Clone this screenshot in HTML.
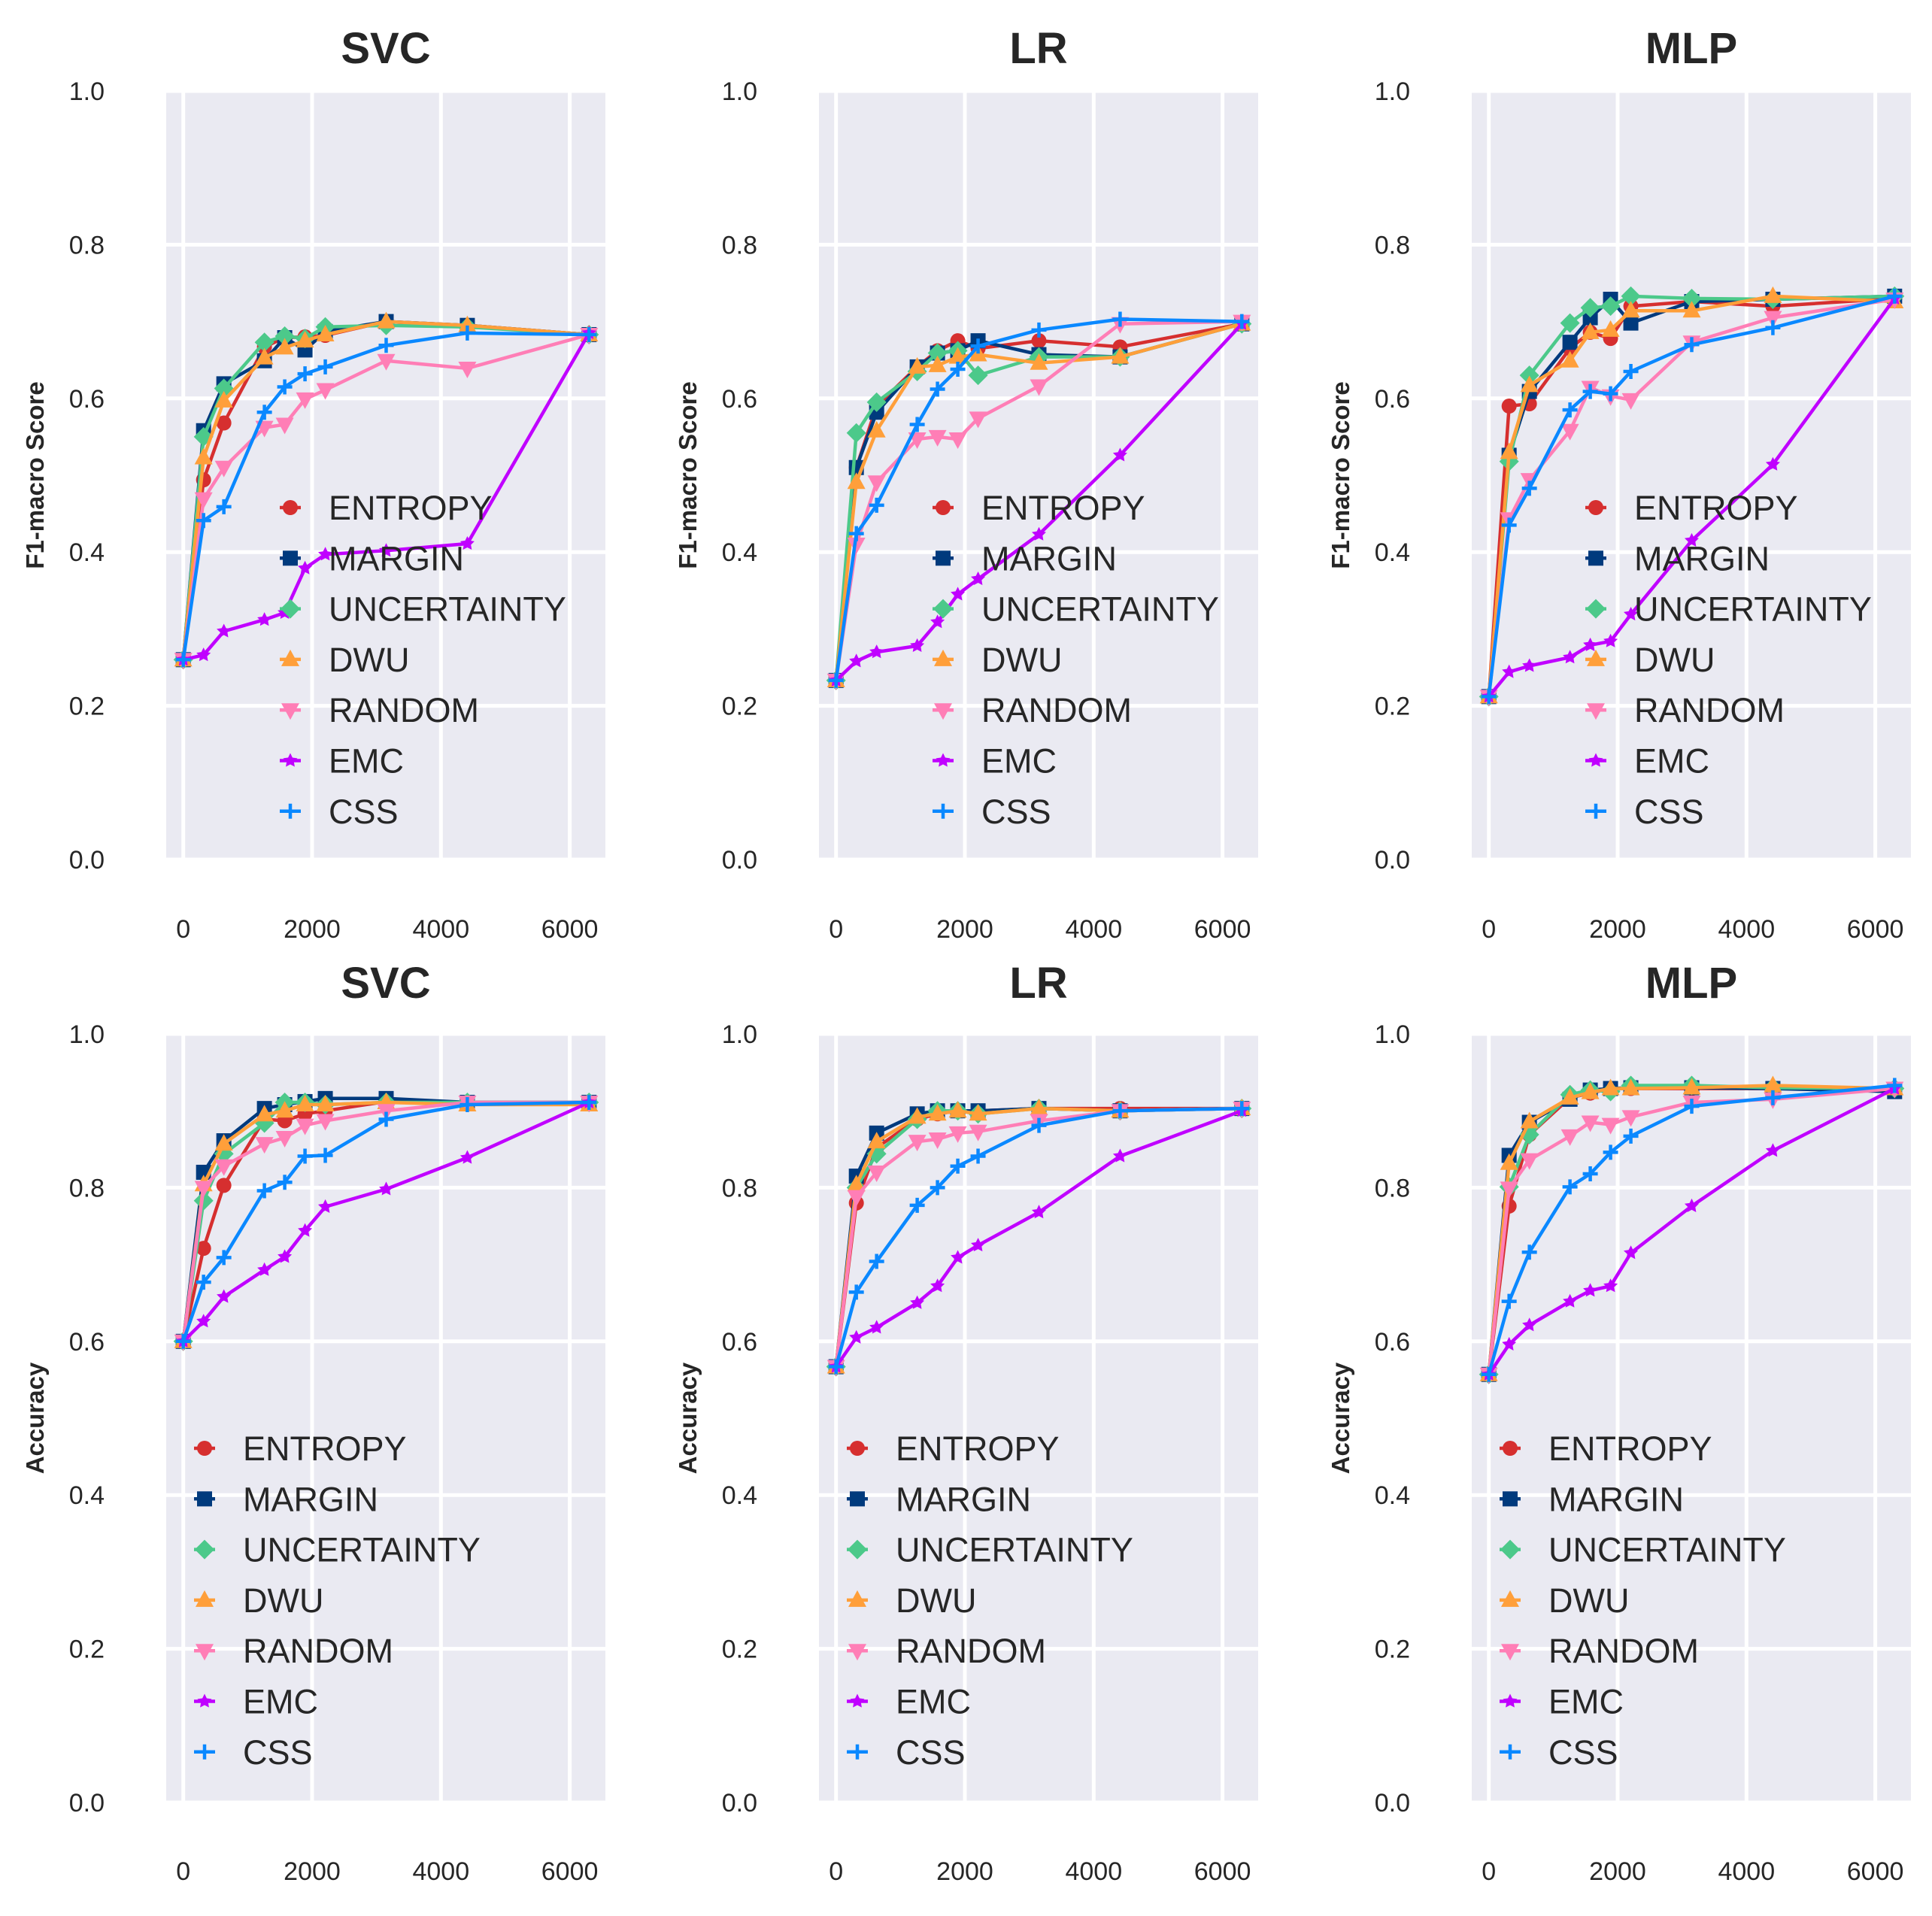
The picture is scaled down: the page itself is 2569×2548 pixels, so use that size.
<!DOCTYPE html>
<html><head><meta charset="utf-8"><style>
html,body{margin:0;padding:0;background:#fff;}
svg{display:block;}
text{font-family:"Liberation Sans",sans-serif;}
</style></head><body>
<svg id="fig" width="2569" height="2548" viewBox="0 0 2569 2548" xmlns="http://www.w3.org/2000/svg"></svg>
<script>
const xs = [0,315,630,1260,1575,1890,2205,3150,4410,6300];
const methods = ["ENTROPY","MARGIN","UNCERTAINTY","DWU","RANDOM","EMC","CSS"];
const colors = ["#d62f2f","#003a7d","#4cc98a","#ff9f3a","#ff7eb6","#c000ff","#0a88ff"];
const markers = ["circle","square","diamond","tri-up","tri-down","star","plus"];
const yTicks = [0.0,0.2,0.4,0.6,0.8,1.0];
const xTicks = [0,2000,4000,6000];
const titles = ["SVC","LR","MLP","SVC","LR","MLP"];
const yLabels = ["F1-macro Score","Accuracy"];

const svcF1 = [
[0.26,0.494,0.568,0.667,0.679,0.68,0.682,0.70,0.695,0.683],
[0.26,0.558,0.619,0.649,0.679,0.663,0.687,0.70,0.695,0.683],
[0.26,0.55,0.613,0.673,0.681,0.678,0.693,0.695,0.693,0.683],
[0.26,0.523,0.597,0.653,0.666,0.675,0.683,0.70,0.695,0.683],
[0.26,0.469,0.51,0.562,0.566,0.599,0.611,0.649,0.639,0.683],
[0.26,0.266,0.297,0.312,0.321,0.379,0.397,0.402,0.411,0.685],
[0.26,0.441,0.459,0.582,0.615,0.632,0.641,0.669,0.685,0.683]];
const lrF1 = [
[0.233,0.51,0.59,0.641,0.662,0.675,0.665,0.675,0.667,0.697],
[0.233,0.51,0.582,0.641,0.659,0.662,0.675,0.657,0.654,0.697],
[0.233,0.555,0.595,0.635,0.659,0.662,0.63,0.654,0.654,0.697],
[0.233,0.491,0.558,0.641,0.643,0.654,0.657,0.646,0.654,0.697],
[0.233,0.41,0.491,0.547,0.55,0.547,0.574,0.616,0.697,0.70],
[0.233,0.258,0.27,0.278,0.309,0.345,0.365,0.423,0.526,0.697],
[0.233,0.424,0.461,0.566,0.612,0.638,0.668,0.689,0.703,0.70]];
const mlpF1 = [
[0.212,0.59,0.593,0.665,0.686,0.678,0.72,0.726,0.72,0.73],
[0.212,0.526,0.609,0.673,0.705,0.729,0.698,0.726,0.729,0.733],
[0.212,0.518,0.63,0.698,0.718,0.72,0.733,0.73,0.729,0.733],
[0.212,0.53,0.617,0.649,0.686,0.689,0.714,0.714,0.733,0.726],
[0.212,0.443,0.494,0.558,0.614,0.603,0.598,0.673,0.705,0.729],
[0.212,0.244,0.252,0.263,0.279,0.284,0.319,0.415,0.514,0.73],
[0.212,0.435,0.483,0.585,0.609,0.606,0.635,0.67,0.692,0.733]];
const svcAcc = [
[0.6,0.721,0.803,0.889,0.887,0.896,0.9,0.912,0.911,0.911],
[0.6,0.82,0.861,0.903,0.908,0.912,0.916,0.916,0.911,0.911],
[0.6,0.783,0.844,0.884,0.911,0.911,0.908,0.911,0.911,0.911],
[0.6,0.804,0.857,0.895,0.9,0.908,0.908,0.911,0.908,0.908],
[0.6,0.8,0.828,0.857,0.865,0.881,0.887,0.9,0.911,0.911],
[0.6,0.626,0.658,0.693,0.71,0.744,0.775,0.798,0.839,0.911],
[0.6,0.677,0.709,0.796,0.807,0.841,0.842,0.889,0.908,0.911]];
const lrAcc = [
[0.567,0.78,0.852,0.889,0.896,0.9,0.9,0.903,0.903,0.903],
[0.567,0.815,0.871,0.896,0.9,0.9,0.9,0.903,0.9,0.903],
[0.567,0.8,0.844,0.889,0.9,0.9,0.896,0.903,0.9,0.903],
[0.567,0.804,0.86,0.892,0.896,0.9,0.896,0.903,0.9,0.903],
[0.567,0.788,0.82,0.86,0.863,0.871,0.873,0.887,0.9,0.903],
[0.567,0.605,0.618,0.65,0.672,0.709,0.725,0.768,0.841,0.9],
[0.567,0.664,0.704,0.777,0.8,0.828,0.841,0.881,0.9,0.903]];
const mlpAcc = [
[0.557,0.776,0.869,0.917,0.923,0.929,0.929,0.929,0.929,0.929],
[0.557,0.842,0.885,0.915,0.927,0.929,0.93,0.93,0.929,0.925],
[0.557,0.801,0.869,0.921,0.927,0.925,0.933,0.933,0.93,0.929],
[0.557,0.832,0.886,0.917,0.924,0.929,0.929,0.93,0.933,0.929],
[0.557,0.799,0.836,0.867,0.885,0.882,0.892,0.911,0.915,0.929],
[0.557,0.596,0.621,0.652,0.666,0.672,0.715,0.776,0.848,0.929],
[0.557,0.652,0.716,0.801,0.818,0.846,0.867,0.906,0.917,0.933]];
const panelData = [svcF1,lrF1,mlpF1,svcAcc,lrAcc,mlpAcc];

const NS="http://www.w3.org/2000/svg";
const fig=document.getElementById('fig');
function mk(tag,attrs,parent){const e=document.createElementNS(NS,tag);for(const k in attrs)e.setAttribute(k,attrs[k]);(parent||fig).appendChild(e);return e;}

const AX_W=584, COL_X=[221,1089,1957], ROW_TOP=[121,1375], AX_H=1022;
const X0OFF=22.7, XSCALE=171.3/2000;

function drawMarker(g,type,cx,cy,color){
  let e;
  if(type==="circle"){e=mk('circle',{cx:cx,cy:cy,r:10,fill:color},g);}
  else if(type==="square"){e=mk('rect',{x:cx-10,y:cy-10,width:20,height:20,fill:color},g);}
  else if(type==="diamond"){e=mk('polygon',{points:`${cx},${cy-13} ${cx+13},${cy} ${cx},${cy+13} ${cx-13},${cy}`,fill:color},g);}
  else if(type==="tri-up"){e=mk('polygon',{points:`${cx},${cy-13} ${cx+12},${cy+9} ${cx-12},${cy+9}`,fill:color},g);}
  else if(type==="tri-down"){e=mk('polygon',{points:`${cx},${cy+13} ${cx+12},${cy-9} ${cx-12},${cy-9}`,fill:color},g);}
  else if(type==="star"){let p=[];for(let i=0;i<10;i++){const r=i%2?5:10;const a=-Math.PI/2+i*Math.PI/5;p.push((cx+r*Math.cos(a)).toFixed(1)+','+(cy+r*Math.sin(a)).toFixed(1));}e=mk('polygon',{points:p.join(' '),fill:color},g);}
  else {e=mk('path',{d:`M${cx-10},${cy}H${cx+10}M${cx},${cy-10}V${cy+10}`,stroke:color,'stroke-width':4.5,fill:'none'},g);}
  
  
  return e;
}

for(let p=0;p<6;p++){
  const row=Math.floor(p/3), col=p%3;
  const L=COL_X[col], T=ROW_TOP[row], B=T+AX_H;
  const xmap=v=>L+X0OFF+v*XSCALE;
  const ymap=v=>B-v*AX_H;
  const g=mk('g',{});
  
  
  const bg=mk('rect',{x:L,y:T,width:AX_W,height:AX_H,fill:'#eaeaf2'},g);
  
  
  yTicks.forEach(v=>{
    const y=ymap(v);
    const gl=mk('line',{x1:L,x2:L+AX_W,y1:y,y2:y,stroke:'#fff','stroke-width':5},g);
    
    
    const t=mk('text',{x:L-82,y:y+12,'text-anchor':'end','font-size':34,fill:'#262626'},g);
    t.textContent=v.toFixed(1);
    
    
  });
  xTicks.forEach(v=>{
    const x=xmap(v);
    const gl=mk('line',{x1:x,x2:x,y1:T,y2:B,stroke:'#fff','stroke-width':5},g);
    
    
    const t=mk('text',{x:x,y:(row?2500:1247),'text-anchor':'middle','font-size':34,fill:'#262626'},g);
    t.textContent=String(v);
    
    
  });
  const tt=mk('text',{x:L+AX_W/2,y:(row?1327:84),'text-anchor':'middle','font-size':58,'font-weight':'bold',fill:'#262626'},g);
  tt.textContent=titles[p];
  
  
  const yc=T+AX_H/2, yx=L-163;
  const yl=mk('text',{x:yx,y:yc,'text-anchor':'middle','font-size':33,'font-weight':'bold',fill:'#262626',transform:`rotate(-90 ${yx} ${yc})`},g);
  yl.textContent=yLabels[row];
  
  

  const data=panelData[p];
  data.forEach((vals,s)=>{
    const sg=mk('g',{},g);
    
    
    const pts=vals.map((v,i)=>xmap(xs[i]).toFixed(1)+','+ymap(v).toFixed(1)).join(' ');
    const ln=mk('polyline',{points:pts,fill:'none',stroke:colors[s],'stroke-width':4.5,'stroke-linejoin':'round'},sg);
    
    
    vals.forEach((v,i)=>drawMarker(sg,markers[s],xmap(xs[i]),ymap(v),colors[s]));
  });

  const lg=mk('g',{},g);
  
  
  const mx=row? L+51 : L+165, tx=row? L+102 : L+216, y0=row?1926:675;
  methods.forEach((m,s)=>{
    const y=y0+s*67.3;
    const eg=mk('g',{},lg);
    
    
    const l=mk('line',{x1:mx-14,x2:mx+14,y1:y,y2:y,stroke:colors[s],'stroke-width':4.5},eg);
    
    
    drawMarker(eg,markers[s],mx,y,colors[s]);
    const t=mk('text',{x:tx,y:y+16,'font-size':45,fill:'#262626'},eg);
    t.textContent=m;
    
    
  });
}
</script>
</body></html>
